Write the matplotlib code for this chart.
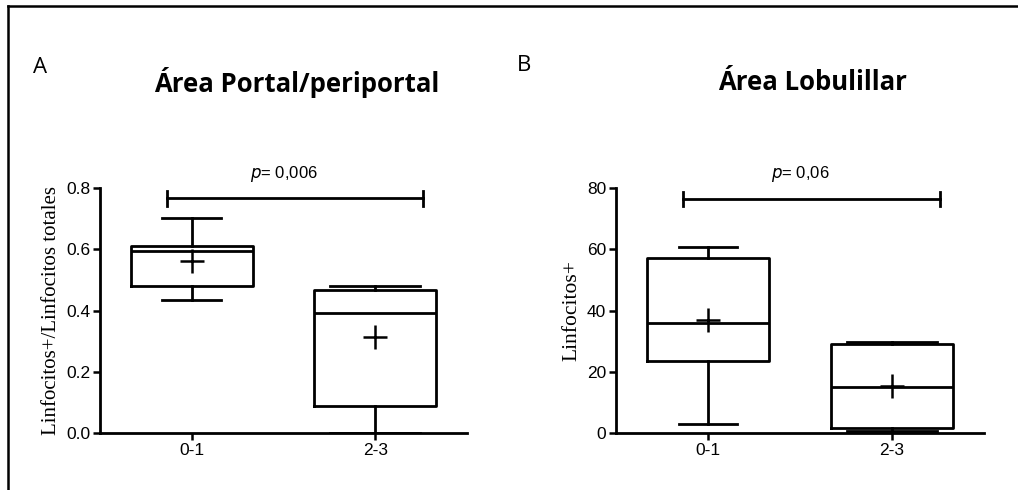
import matplotlib
matplotlib.use("Agg")
import matplotlib.pyplot as plt
from matplotlib.lines import Line2D

# grupos
categorias = ["0-1", "2-3"]

# A: Linfocitos+/Linfocitos totales (area portal/periportal)
a_whislo = [0.433, 0.0]
a_q1 = [0.481, 0.088]
a_med = [0.595, 0.392]
a_q3 = [0.612, 0.466]
a_whishi = [0.701, 0.480]
a_mean = [0.563, 0.315]

# B: Linfocitos+ (area lobulillar)
b_whislo = [2.8, 0.6]
b_q1 = [23.5, 1.5]
b_med = [35.8, 15.0]
b_q3 = [57.0, 29.0]
b_whishi = [60.8, 29.7]
b_mean = [37.0, 15.2]

p_a = "0,006"
p_b = "0,06"


def stats(lo, q1, med, q3, hi):
    out = []
    for i in range(len(lo)):
        out.append({"whislo": lo[i], "q1": q1[i], "med": med[i], "q3": q3[i],
                    "whishi": hi[i], "fliers": []})
    return out


def panel(ax, st, medias, ymax, yticks, ylabel, pval, sig_y, ylsize):
    lw = 2.0
    ax.bxp(st, positions=[1, 2], widths=0.667, capwidths=[0.32, 0.49],
           showfliers=False, patch_artist=False,
           boxprops=dict(color="black", linewidth=lw),
           medianprops=dict(color="black", linewidth=lw),
           whiskerprops=dict(color="black", linewidth=lw),
           capprops=dict(color="black", linewidth=lw))
    ax.plot([1, 2], medias, linestyle="none", marker="+", markersize=17,
            markeredgewidth=1.8, color="black")
    ax.set_xlim(0.5, 2.5)
    ax.set_ylim(0, ymax)
    ax.set_yticks(yticks)
    ax.set_xticks([1, 2])
    ax.set_xticklabels(categorias)
    for s in ["top", "right"]:
        ax.spines[s].set_visible(False)
    for s in ["left", "bottom"]:
        ax.spines[s].set_linewidth(2.0)
    ax.tick_params(direction="out", length=5, width=1.8, labelsize=12.5, pad=2)
    for lab in ax.get_xticklabels() + ax.get_yticklabels():
        lab.set_fontfamily("Liberation Sans")
    ax.set_ylabel(ylabel, fontfamily="Liberation Serif", fontsize=ylsize, labelpad=4)
    # barra de significancia
    ax.plot([0.863, 2.263], [sig_y, sig_y], color="black", lw=2, clip_on=False)
    for x in [0.863, 2.263]:
        ax.plot([x, x], [sig_y - ymax * 0.03, sig_y + ymax * 0.03],
                color="black", lw=2, clip_on=False)
    ax.text(1.5, ymax * 1.015, "$\\it{p}$= " + pval, ha="center", va="bottom",
            fontsize=12, fontfamily="Liberation Sans", clip_on=False)


fig = plt.figure(figsize=(10.18, 4.9), dpi=100)
ax1 = fig.add_axes([0.0982, 0.1163, 0.3605, 0.5])
ax2 = fig.add_axes([0.6051, 0.1163, 0.3615, 0.5])

panel(ax1, stats(a_whislo, a_q1, a_med, a_q3, a_whishi), a_mean, 0.8,
      [0.0, 0.2, 0.4, 0.6, 0.8], "Linfocitos+/Linfocitos totales", p_a, 0.766, 15)
ax1.set_yticklabels(["0.0", "0.2", "0.4", "0.6", "0.8"])
panel(ax2, stats(b_whislo, b_q1, b_med, b_q3, b_whishi), b_mean, 80,
      [0, 20, 40, 60, 80], "Linfocitos+", p_b, 76.4, 15.5)

# letras y titulos
fig.text(0.032, 0.862, "A", fontsize=16, fontfamily="Open Sans", va="center")
fig.text(0.508, 0.866, "B", fontsize=16, fontfamily="Open Sans", va="center")
fig.text(0.291, 0.832, "Área Portal/periportal", fontsize=18.5, fontweight="bold",
         fontfamily="Open Sans", ha="center", va="center")
fig.text(0.798, 0.832, "Área Lobulillar", fontsize=18.5, fontweight="bold",
         fontfamily="Open Sans", ha="center", va="center")

# marco de la figura
fig.add_artist(Line2D([0.008, 1.0], [0.988, 0.988], color="black", lw=1.8,
                      transform=fig.transFigure))
fig.add_artist(Line2D([0.008, 0.008], [0.0, 0.988], color="black", lw=1.8,
                      transform=fig.transFigure))

fig.savefig("out.png", dpi=100)
